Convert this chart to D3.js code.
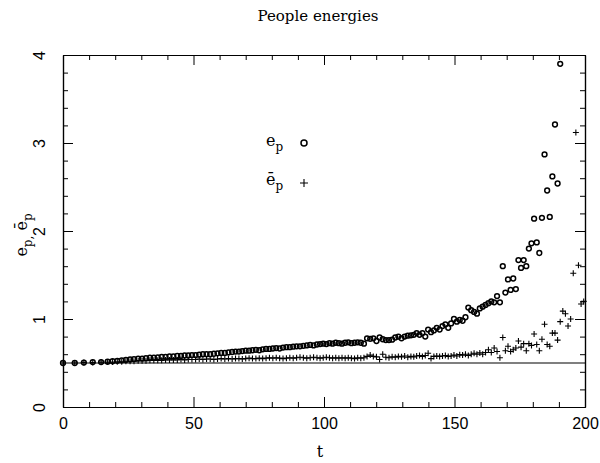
<!DOCTYPE html>
<meta charset="utf-8">
<style>

body {
  margin: 0;
  background: #fff;
}

text {
  font-family: "DejaVu Serif", serif;
  fill: #000;
}

.tick text {
  font: 16px "Liberation Sans", sans-serif;
}

.domain, .tick line {
  stroke: #000;
}

</style>
<svg width="600" height="463"></svg>
<script src="https://d3js.org/d3.v7.min.js"></script>
<script>

// time of each sample
let times = [
  0, 4.5, 8, 11.4, 14.6, 17.1, 19, 20.8, 22.5, 24.1,
  25.7, 27.2, 28.8, 30.3, 31.8, 33.3, 34.8, 36.3, 37.8, 39.3,
  40.8, 42.3, 43.8, 45.2, 46.6, 48, 49.4, 50.8, 52.2, 53.6,
  55, 56.4, 57.8, 59.2, 60.6, 62, 63.4, 64.8, 66.1, 67.4,
  68.7, 70, 71.3, 72.6, 73.9, 75.2, 76.5, 77.8, 79.1, 80.4,
  81.7, 83, 84.3, 85.6, 86.9, 88.2, 89.5, 90.8, 92.1, 93.4,
  94.7, 96, 97.3, 98.5, 99.7, 100.9, 102.1, 103.3, 104.5, 105.7,
  106.9, 108.1, 109.3, 110.5, 111.7, 112.9, 114.1, 115.3, 116.5, 117.7,
  118.9, 120.1, 121.3, 122.5, 123.7, 124.9, 126.1, 127.3, 128.5, 129.7,
  130.9, 132.1, 133.3, 134.4, 135.5, 136.6, 137.7, 138.8, 139.9, 141,
  142.1, 143.2, 144.3, 145.4, 146.5, 147.6, 148.7, 149.8, 150.9, 152,
  153.1, 154.2, 155.3, 156.4, 157.5, 158.6, 159.7, 160.8, 161.9, 163,
  164.1, 165.2, 166.3, 167.4, 168.5, 169.5, 170.5, 171.5, 172.5, 173.5,
  174.5, 175.5, 176.5, 177.5, 178.5, 179.5, 180.5, 181.5, 182.5, 183.5,
  184.5, 185.5, 186.5, 187.5, 188.5, 189.5, 190.5, 191.5, 192.5, 193.5,
  194.5, 195.5, 196.5, 197.5, 198.5, 199.5
];

// e_p (circles); later values are off the top of the plot
let ep = [
  0.50, 0.50, 0.505, 0.51, 0.51, 0.515, 0.52, 0.525, 0.53, 0.535,
  0.54, 0.545, 0.55, 0.55, 0.555, 0.56, 0.56, 0.565, 0.57, 0.57,
  0.575, 0.575, 0.58, 0.58, 0.585, 0.585, 0.59, 0.59, 0.595, 0.60,
  0.60, 0.60, 0.605, 0.61, 0.615, 0.615, 0.62, 0.625, 0.63, 0.63,
  0.635, 0.64, 0.64, 0.645, 0.65, 0.645, 0.655, 0.66, 0.66, 0.665,
  0.67, 0.665, 0.675, 0.68, 0.68, 0.685, 0.69, 0.69, 0.695, 0.70,
  0.705, 0.70, 0.71, 0.715, 0.72, 0.715, 0.725, 0.72, 0.73, 0.725,
  0.72, 0.73, 0.735, 0.725, 0.73, 0.735, 0.73, 0.72, 0.78, 0.775,
  0.78, 0.75, 0.79, 0.77, 0.76, 0.76, 0.765, 0.79, 0.80, 0.78,
  0.80, 0.81, 0.815, 0.82, 0.84, 0.82, 0.84, 0.80, 0.88, 0.85,
  0.87, 0.90, 0.88, 0.92, 0.94, 0.90, 0.95, 1.00, 0.97, 0.99,
  0.98, 1.02, 1.13, 1.10, 1.08, 1.06, 1.12, 1.14, 1.16, 1.18,
  1.20, 1.19, 1.26, 1.19, 1.60, 1.30, 1.45, 1.33, 1.46, 1.34,
  1.67, 1.58, 1.67, 1.60, 1.80, 1.86, 2.14, 1.87, 1.75, 2.15,
  2.87, 2.46, 2.16, 2.62, 3.21, 2.54, 3.90, null, null, null,
  null, null, null, null, null, null
];

// e_p bar (pluses)
let epBar = [
  0.50, 0.50, 0.505, 0.505, 0.51, 0.51, 0.51, 0.515, 0.515, 0.52,
  0.52, 0.52, 0.525, 0.525, 0.525, 0.53, 0.53, 0.53, 0.53, 0.535,
  0.535, 0.535, 0.535, 0.54, 0.535, 0.54, 0.54, 0.54, 0.545, 0.54,
  0.545, 0.545, 0.54, 0.545, 0.55, 0.545, 0.55, 0.545, 0.55, 0.55,
  0.545, 0.55, 0.555, 0.55, 0.55, 0.555, 0.55, 0.555, 0.56, 0.555,
  0.56, 0.555, 0.55, 0.555, 0.56, 0.555, 0.56, 0.565, 0.56, 0.555,
  0.56, 0.565, 0.56, 0.555, 0.56, 0.565, 0.56, 0.555, 0.56, 0.555,
  0.56, 0.555, 0.56, 0.555, 0.55, 0.56, 0.555, 0.56, 0.575, 0.59,
  0.575, 0.57, 0.54, 0.60, 0.565, 0.56, 0.57, 0.565, 0.575, 0.57,
  0.58, 0.565, 0.575, 0.57, 0.58, 0.585, 0.575, 0.585, 0.61, 0.55,
  0.575, 0.58, 0.575, 0.58, 0.585, 0.575, 0.58, 0.59, 0.58, 0.595,
  0.59, 0.60, 0.585, 0.60, 0.61, 0.60, 0.615, 0.60, 0.62, 0.65,
  0.62, 0.67, 0.63, 0.56, 0.79, 0.64, 0.69, 0.63, 0.65, 0.67,
  0.75, 0.68, 0.72, 0.64, 0.72, 0.70, 0.83, 0.71, 0.64, 0.77,
  0.94, 0.71, 0.69, 0.84, 0.84, 0.76, 0.97, 1.09, 1.06, 0.92,
  1.00, 1.52, 3.12, 1.61, 1.17, 1.20
];

let xTicks = [0, 50, 100, 150, 200];
let yTicks = [0, 1, 2, 3, 4];
let xMinor = [10, 20, 30, 40, 60, 70, 80, 90, 110, 120, 130, 140, 160, 170, 180, 190];
let yMinor = [0.2, 0.4, 0.6, 0.8, 1.2, 1.4, 1.6, 1.8, 2.2, 2.4, 2.6, 2.8, 3.2, 3.4, 3.6, 3.8];
let refLevel = 0.5;

let svg = d3.select('svg');
let margin = {top: 55, right: 15, bottom: 56, left: 63};
let width = +svg.attr('width') - margin.left - margin.right;
let height = +svg.attr('height') - margin.top - margin.bottom;
let g = svg.append('g').attr('transform', 'translate(' + margin.left + ',' + margin.top + ')');

let x = d3.scaleLinear().domain([0, 200]).range([0, width]);
let y = d3.scaleLinear().domain([0, 4]).range([height, 0]);

// axes, ticks pointing inward on all four sides
let addAxis = (axis, values, size, transform, labels) => {
  let a = g.append('g')
      .attr('transform', transform)
      .call(axis.tickValues(values).tickSizeInner(-size).tickSizeOuter(0)
        .tickPadding(labels ? 11 : 0).tickFormat(labels ? d3.format('d') : ''));
  a.selectAll('.domain').attr('stroke-width', 1.2);
  return a;
};

addAxis(d3.axisBottom(x), xTicks, 10, 'translate(0,' + height + ')', true);
addAxis(d3.axisBottom(x), xMinor, 5, 'translate(0,' + height + ')', false);
addAxis(d3.axisTop(x), xTicks, 10, null, false);
addAxis(d3.axisTop(x), xMinor, 5, null, false);

let yAxis = addAxis(d3.axisLeft(y), yTicks, 10, null, true);
yAxis.selectAll('.tick text')
    .attr('x', null)
    .attr('dy', null)
    .attr('text-anchor', 'middle')
    .attr('transform', 'translate(-18,0) rotate(-90)');
addAxis(d3.axisLeft(y), yMinor, 5, null, false);
addAxis(d3.axisRight(y), yTicks, 10, 'translate(' + width + ',0)', false);
addAxis(d3.axisRight(y), yMinor, 5, 'translate(' + width + ',0)', false);

// reference line
g.append('line')
    .attr('x1', x(0))
    .attr('x2', x(200))
    .attr('y1', y(refLevel))
    .attr('y2', y(refLevel))
    .attr('stroke', '#000')
    .attr('stroke-width', 1.2);

let circleData = times.map((t, i) => [t, ep[i]]).filter(d => d[1] != null);
let plusData = times.map((t, i) => [t, epBar[i]]);

g.selectAll('.pt-c')
  .data(circleData)
  .enter().append('circle')
    .attr('class', 'pt-c')
    .attr('cx', d => x(d[0]))
    .attr('cy', d => y(d[1]))
    .attr('r', 2.4)
    .attr('fill', 'none')
    .attr('stroke', '#000')
    .attr('stroke-width', 1.5);

g.selectAll('.pt-p')
  .data(plusData)
  .enter().append('path')
    .attr('class', 'pt-p')
    .attr('transform', d => 'translate(' + x(d[0]) + ',' + y(d[1]) + ')')
    .attr('d', 'M-3,0H3M0,-3V3')
    .attr('stroke', '#000')
    .attr('stroke-width', 1.1);

// legend
let leg = svg.append('g');
let l1 = leg.append('text').attr('x', 266).attr('y', 146).style('font-size', '16px');
l1.append('tspan').text('e');
l1.append('tspan').attr('dy', 5).style('font-size', '12px').text('p');
leg.append('circle')
    .attr('cx', 304).attr('cy', 143).attr('r', 3)
    .attr('fill', 'none').attr('stroke', '#000').attr('stroke-width', 1.5);

let l2 = leg.append('text').attr('x', 266).attr('y', 185).style('font-size', '16px');
l2.append('tspan').text('ē');
l2.append('tspan').attr('dy', 5).style('font-size', '12px').text('p');
leg.append('path')
    .attr('transform', 'translate(304,183)')
    .attr('d', 'M-4,0H4M0,-4V4')
    .attr('stroke', '#000')
    .attr('stroke-width', 1.1);

// titles
svg.append('text')
    .attr('x', 318)
    .attr('y', 21)
    .attr('text-anchor', 'middle')
    .style('font-size', '15px')
    .text('People energies');

svg.append('text')
    .attr('x', 320)
    .attr('y', 457)
    .attr('text-anchor', 'middle')
    .style('font-size', '16px')
    .text('t');

let yt = svg.append('text')
    .attr('transform', 'translate(27,235) rotate(-90)')
    .attr('text-anchor', 'middle')
    .style('font-size', '16px');
yt.append('tspan').text('e');
yt.append('tspan').attr('dy', 5).style('font-size', '12px').text('p,');
yt.append('tspan').attr('dy', -5).text(' ē');
yt.append('tspan').attr('dy', 5).style('font-size', '12px').text('p');

</script>
